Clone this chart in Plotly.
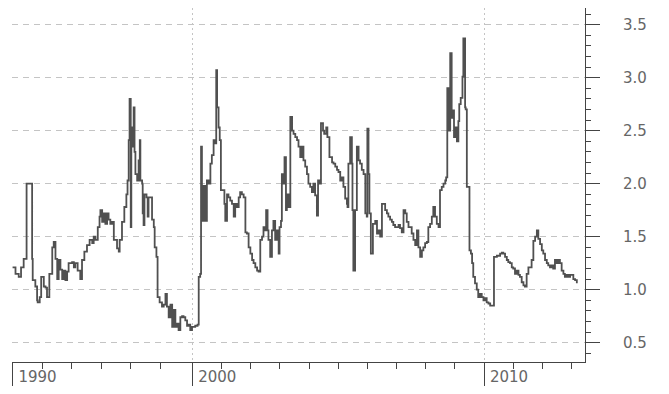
import plotly.graph_objects as go

# Series values, x as decimal years
years = [
    1993.84, 1993.94, 1994.05, 1994.13, 1994.22, 1994.28, 1994.32, 1994.43, 1994.51, 1994.53,
    1994.62, 1994.68, 1994.70, 1994.77, 1994.82, 1994.91, 1994.97, 1995.02, 1995.10, 1995.16,
    1995.20, 1995.25, 1995.31, 1995.37, 1995.42, 1995.48, 1995.54, 1995.59, 1995.65, 1995.71,
    1995.76, 1995.88, 1995.94, 1995.99, 1996.07, 1996.16, 1996.22, 1996.30, 1996.39, 1996.48,
    1996.57, 1996.62, 1996.68, 1996.76, 1996.82, 1996.85, 1996.91, 1996.96, 1997.02, 1997.08,
    1997.13, 1997.19, 1997.25, 1997.31, 1997.42, 1997.48, 1997.51, 1997.59, 1997.67, 1997.74,
    1997.78, 1997.82, 1997.85, 1997.89, 1997.91, 1997.96, 1997.99, 1998.02, 1998.05, 1998.11,
    1998.16, 1998.20, 1998.22, 1998.28, 1998.30, 1998.33, 1998.36, 1998.43, 1998.47, 1998.50,
    1998.56, 1998.62, 1998.68, 1998.71, 1998.77, 1998.81, 1998.88, 1998.96, 1999.02, 1999.08,
    1999.13, 1999.19, 1999.25, 1999.31, 1999.36, 1999.42, 1999.48, 1999.53, 1999.59, 1999.65,
    1999.70, 1999.76, 1999.82, 1999.87, 1999.93, 1999.99, 2000.04, 2000.10, 2000.18, 2000.22,
    2000.27, 2000.30, 2000.33, 2000.39, 2000.45, 2000.50, 2000.56, 2000.62, 2000.67, 2000.73,
    2000.79, 2000.82, 2000.85, 2000.90, 2000.94, 2000.98, 2001.10, 2001.13, 2001.19, 2001.24,
    2001.30, 2001.36, 2001.42, 2001.47, 2001.53, 2001.59, 2001.64, 2001.70, 2001.76, 2001.82,
    2001.87, 2001.93, 2001.99, 2002.05, 2002.10, 2002.16, 2002.22, 2002.27, 2002.33, 2002.39,
    2002.44, 2002.50, 2002.53, 2002.58, 2002.61, 2002.67, 2002.73, 2002.78, 2002.84, 2002.90,
    2002.96, 2002.99, 2003.04, 2003.07, 2003.13, 2003.16, 2003.21, 2003.24, 2003.30, 2003.36,
    2003.42, 2003.47, 2003.53, 2003.59, 2003.64, 2003.70, 2003.76, 2003.81, 2003.87, 2003.93,
    2003.98, 2004.04, 2004.10, 2004.15, 2004.21, 2004.27, 2004.31, 2004.35, 2004.41, 2004.48,
    2004.52, 2004.59, 2004.63, 2004.70, 2004.79, 2004.84, 2004.90, 2004.96, 2005.01, 2005.07,
    2005.13, 2005.18, 2005.24, 2005.30, 2005.32, 2005.35, 2005.41, 2005.47, 2005.49, 2005.52,
    2005.58, 2005.64, 2005.70, 2005.75, 2005.81, 2005.87, 2005.93, 2005.98, 2006.00, 2006.04,
    2006.07, 2006.12, 2006.19, 2006.27, 2006.33, 2006.38, 2006.44, 2006.50, 2006.55, 2006.61,
    2006.67, 2006.72, 2006.78, 2006.84, 2006.89, 2006.95, 2007.01, 2007.07, 2007.12, 2007.18,
    2007.24, 2007.30, 2007.35, 2007.41, 2007.47, 2007.52, 2007.58, 2007.64, 2007.70, 2007.75,
    2007.81, 2007.87, 2007.92, 2007.98, 2008.04, 2008.09, 2008.15, 2008.21, 2008.26, 2008.32,
    2008.38, 2008.44, 2008.49, 2008.55, 2008.61, 2008.67, 2008.70, 2008.74, 2008.80, 2008.84,
    2008.89, 2008.93, 2008.97, 2009.01, 2009.07, 2009.12, 2009.15, 2009.20, 2009.26, 2009.29,
    2009.35, 2009.37, 2009.41, 2009.43, 2009.50, 2009.55, 2009.59, 2009.63, 2009.69, 2009.75,
    2009.80, 2009.86, 2009.92, 2009.98, 2010.03, 2010.09, 2010.15, 2010.21, 2010.26, 2010.30,
    2010.34, 2010.44, 2010.55, 2010.61, 2010.66, 2010.72, 2010.78, 2010.83, 2010.89, 2010.95,
    2011.00, 2011.06, 2011.12, 2011.18, 2011.23, 2011.29, 2011.35, 2011.40, 2011.46, 2011.52,
    2011.58, 2011.63, 2011.69, 2011.75, 2011.81, 2011.86, 2011.92, 2011.98, 2012.03, 2012.09,
    2012.15, 2012.20, 2012.26, 2012.32, 2012.37, 2012.43, 2012.49, 2012.55, 2012.60, 2012.66,
    2012.72, 2012.77, 2012.83, 2012.89, 2012.95, 2013.06, 2013.12, 2013.18,
]

values = [
    1.21, 1.15, 1.12, 1.21, 1.29, 1.29, 2.00, 2.00, 1.29, 1.09,
    1.03, 0.90, 0.88, 0.93, 1.12, 1.03, 1.02, 0.93, 1.15, 1.15,
    1.40, 1.45, 1.29, 1.10, 1.28, 1.19, 1.10, 1.18, 1.09, 1.17,
    1.25, 1.26, 1.21, 1.25, 1.18, 1.10, 1.28, 1.36, 1.42, 1.47,
    1.44, 1.50, 1.47, 1.59, 1.69, 1.75, 1.64, 1.72, 1.62, 1.72,
    1.66, 1.62, 1.64, 1.47, 1.39, 1.36, 1.47, 1.64, 1.78, 1.90,
    2.03, 2.41, 2.80, 1.59, 2.53, 2.35, 2.72, 2.30, 2.09, 2.03,
    2.22, 2.41, 2.03, 2.00, 1.72, 1.61, 1.90, 1.87, 1.69, 1.87,
    1.87, 1.66, 1.59, 1.40, 1.31, 0.93, 0.88, 0.84, 0.86, 0.96,
    0.84, 0.74, 0.86, 0.65, 0.81, 0.65, 0.68, 0.62, 0.74, 0.75,
    0.74, 0.71, 0.66, 0.67, 0.62, 0.65, 0.65, 0.66, 0.67, 1.12,
    1.15, 2.35, 1.65, 1.98, 1.65, 2.03, 2.00, 2.19, 2.27, 2.41,
    2.38, 3.07, 2.72, 2.53, 2.41, 1.94, 1.81, 1.65, 1.90, 1.87,
    1.84, 1.81, 1.69, 1.81, 1.78, 1.87, 1.92, 1.90, 1.87, 1.54,
    1.53, 1.40, 1.34, 1.28, 1.25, 1.21, 1.18, 1.17, 1.47, 1.50,
    1.59, 1.56, 1.75, 1.56, 1.47, 1.31, 1.56, 1.65, 1.47, 1.56,
    1.34, 1.59, 1.65, 2.09, 2.00, 2.25, 1.75, 1.90, 1.78, 2.63,
    2.50, 2.47, 2.44, 2.41, 2.35, 2.25, 2.35, 2.22, 2.16, 2.09,
    2.00, 1.97, 1.92, 2.00, 1.89, 1.70, 2.03, 2.00, 2.57, 2.50,
    2.47, 2.53, 2.44, 2.25, 2.20, 2.19, 2.16, 2.13, 2.11, 2.03,
    2.06, 1.97, 1.86, 1.81, 1.78, 2.19, 2.44, 2.19, 1.75, 1.18,
    1.75, 2.35, 2.22, 2.19, 2.13, 2.09, 1.72, 1.69, 2.52, 2.09,
    1.72, 1.34, 1.62, 1.65, 1.53, 1.56, 1.50, 1.81, 1.81, 1.75,
    1.72, 1.69, 1.66, 1.64, 1.61, 1.59, 1.59, 1.61, 1.58, 1.54,
    1.75, 1.72, 1.64, 1.59, 1.59, 1.53, 1.47, 1.42, 1.56, 1.40,
    1.31, 1.37, 1.40, 1.44, 1.45, 1.59, 1.62, 1.69, 1.78, 1.69,
    1.62, 1.59, 1.94, 1.97, 2.00, 2.03, 2.06, 2.90, 2.50, 3.23,
    2.62, 2.69, 2.44, 2.53, 2.40, 2.59, 2.75, 2.81, 3.01, 3.37,
    2.72, 2.70, 1.97, 1.97, 1.37, 1.34, 1.25, 1.12, 1.06, 1.00,
    0.93, 0.96, 0.93, 0.90, 0.92, 0.88, 0.87, 0.85, 0.85, 0.85,
    1.31, 1.32, 1.34, 1.35, 1.34, 1.31, 1.28, 1.26, 1.25, 1.21,
    1.20, 1.15, 1.18, 1.14, 1.12, 1.07, 1.04, 1.03, 1.15, 1.21,
    1.21, 1.28, 1.46, 1.50, 1.56, 1.48, 1.43, 1.37, 1.34, 1.28,
    1.25, 1.23, 1.21, 1.23, 1.20, 1.28, 1.25, 1.28, 1.25, 1.18,
    1.15, 1.12, 1.14, 1.12, 1.14, 1.10, 1.09, 1.06, 1.04,
]

# Axis labelling
x_major_ticks = [1993.836, 2000, 2010]
x_major_labels = ["1990", "2000", "2010"]
x_minor_ticks = [1994.86, 1995.87, 1996.88, 1997.88, 1998.90,
                 2001, 2002, 2003, 2004, 2005, 2006, 2007, 2008, 2009,
                 2011, 2012, 2013]
y_ticks = [0.5, 1.0, 1.5, 2.0, 2.5, 3.0, 3.5]

fig = go.Figure()
fig.add_trace(go.Scatter(
    x=years, y=values, mode="lines",
    line=dict(color="#505050", width=1.8, shape="hv"),
    showlegend=False, hoverinfo="skip",
))

fig.update_layout(
    width=669, height=394,
    margin=dict(l=12, r=84, t=8, b=32),
    paper_bgcolor="white", plot_bgcolor="white",
    font=dict(family="DejaVu Sans", size=15, color="#666666"),
)

fig.update_xaxes(
    range=[1993.82, 2013.46],
    tickmode="array", tickvals=x_major_ticks, ticktext=x_major_labels,
    ticks="outside", ticklen=23, tickwidth=1, tickcolor="#444444",
    ticklabelshift=25, ticklabelstandoff=-22,
    showline=True, linecolor="#444444", linewidth=1,
    showgrid=True, gridcolor="#c4c4c4", gridwidth=1, griddash="2px,3px",
    zeroline=False,
    minor=dict(tickmode="array", tickvals=x_minor_ticks, ticks="outside",
               ticklen=6, tickcolor="#444444", showgrid=False),
    tickfont=dict(family="DejaVu Sans", size=15, color="#666666"),
)

fig.update_yaxes(
    side="right",
    range=[0.318, 3.657],
    tickmode="array", tickvals=y_ticks, tickformat=".1f",
    ticks="outside", ticklen=14, tickwidth=1, tickcolor="#444444",
    ticklabelstandoff=20,
    showline=True, linecolor="#444444", linewidth=1,
    showgrid=True, gridcolor="#c4c4c4", gridwidth=1, griddash="6px,5px",
    zeroline=False,
    minor=dict(dtick=0.1, tick0=0, ticks="outside", ticklen=5,
               tickcolor="#444444", showgrid=False),
    tickfont=dict(family="DejaVu Sans", size=15, color="#666666"),
)

fig.write_html("out.html")
